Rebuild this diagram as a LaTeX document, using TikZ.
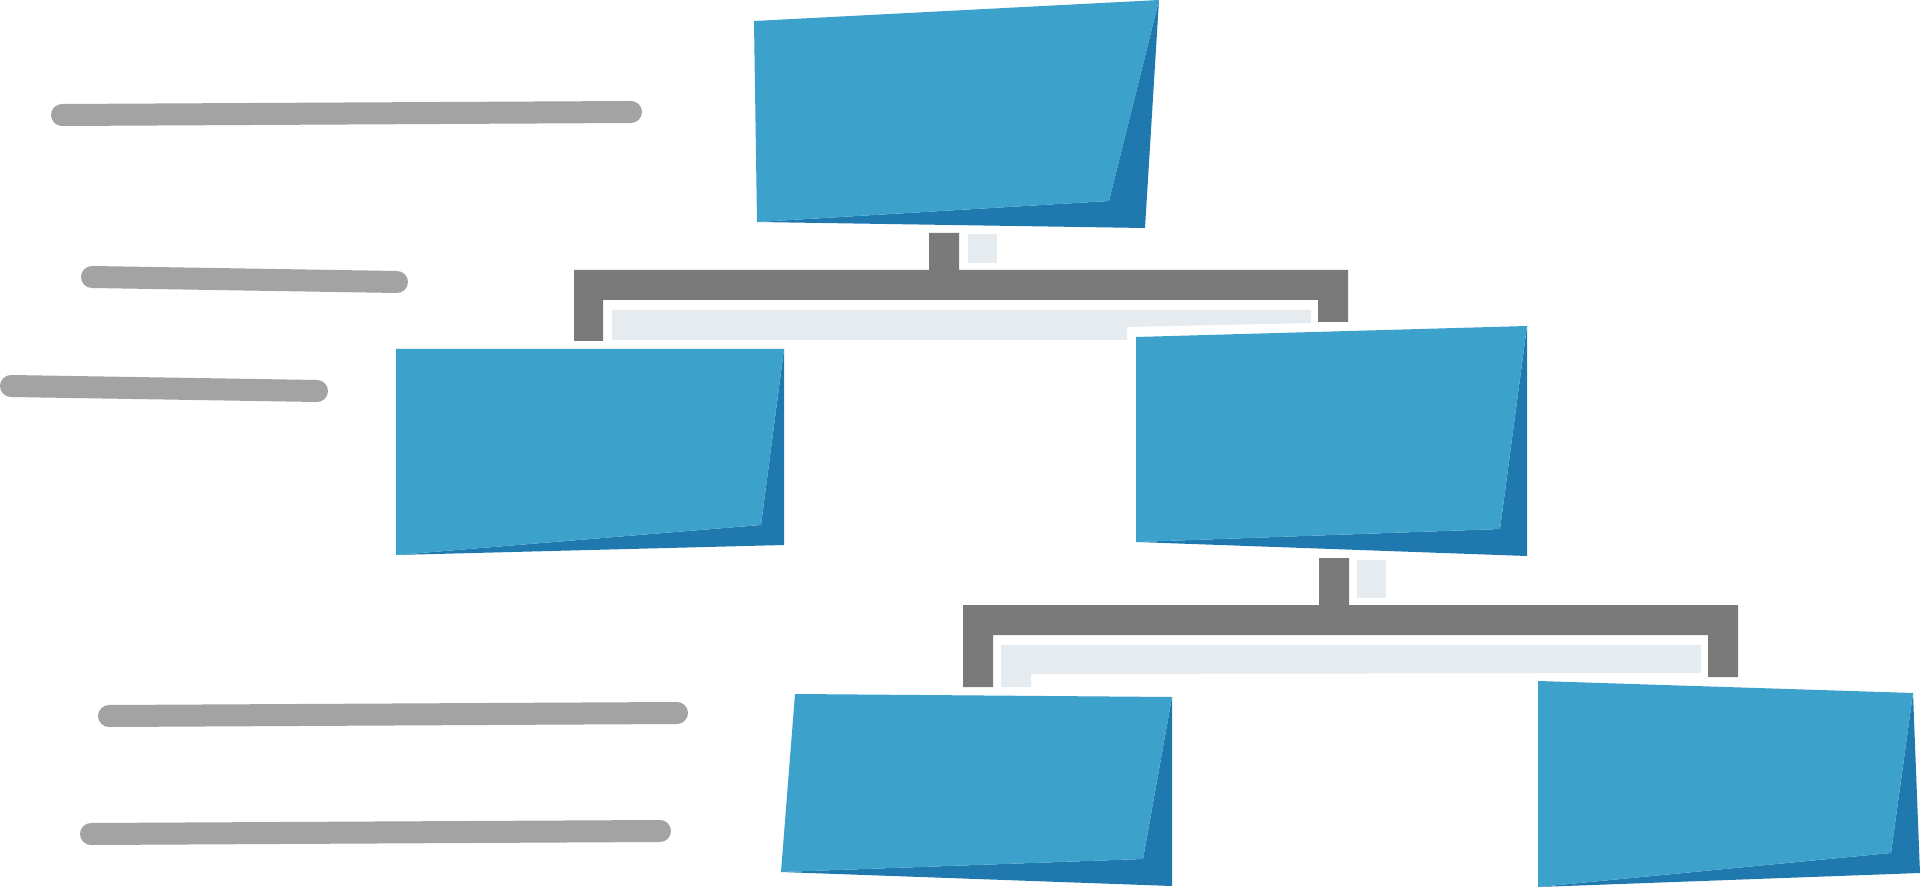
\documentclass[tikz,border=0pt]{standalone}
\usepackage{xcolor}
\definecolor{facelight}{HTML}{3CA1CB}
\definecolor{facedark}{HTML}{2079AE}
\definecolor{brackgray}{HTML}{7A7A7A}
\definecolor{padgray}{HTML}{E6EBEF}
\definecolor{linegray}{HTML}{A3A3A3}
\tikzset{
  lightface/.style={fill=facelight},
  darkface/.style={fill=facedark},
  brackshape/.style={fill=brackgray},
  padshape/.style={fill=padgray},
  textline/.style={draw=linegray, line width=0.22cm, line cap=round}
}
\begin{document}
\begin{tikzpicture}[x=0.01cm,y=-0.01cm]
\useasboundingbox (0,0) rectangle (1920,888);

% placeholder text lines
\draw[textline] (62,115) -- (631,112);
\draw[textline] (92,277) -- (397,282);
\draw[textline] (11,386) -- (317,391);
\draw[textline] (109,716) -- (677,713);
\draw[textline] (91,834) -- (660,831);

% top box
\fill[darkface] (1159,0) -- (1145,228) -- (757,222) -- (1109,201) -- cycle;
\fill[lightface] (754,21) -- (1159,0) -- (1109,201) -- (757,222) -- cycle;

% bracket 1
\fill[brackshape] (574,341) -- (574,270) -- (929,270) -- (929,233) -- (959,233) -- (959,270)
  -- (1348,270) -- (1348,322) -- (1318,322) -- (1318,300) -- (603,300) -- (603,341) -- cycle;
\fill[padshape] (968,234) rectangle (997,263);
\fill[padshape] (612,310) -- (1311,310) -- (1311,323) -- (1127,327) -- (1127,340) -- (612,340) -- cycle;

% left-mid box
\fill[darkface] (784,349) -- (784,545) -- (396,555) -- (761,525) -- cycle;
\fill[lightface] (396,349) -- (784,349) -- (761,525) -- (396,555) -- cycle;

% right-mid box
\fill[darkface] (1527,326) -- (1527,556) -- (1136,542) -- (1500,529) -- cycle;
\fill[lightface] (1136,337) -- (1527,326) -- (1500,529) -- (1136,542) -- cycle;

% bracket 2
\fill[brackshape] (963,687) -- (963,605) -- (1319,605) -- (1319,558) -- (1349,558) -- (1349,605)
  -- (1738,605) -- (1738,677) -- (1708,677) -- (1708,635) -- (993,635) -- (993,687) -- cycle;
\fill[padshape] (1357,560) rectangle (1386,598);
\fill[padshape] (1001,645) -- (1701,645) -- (1701,673) -- (1031,674) -- (1031,687) -- (1001,687) -- cycle;

% bottom-left box
\fill[darkface] (1172,697) -- (1172,886) -- (781,872) -- (1143,859) -- cycle;
\fill[lightface] (795,694) -- (1172,697) -- (1143,859) -- (781,872) -- cycle;

% bottom-right box
\fill[darkface] (1913,693) -- (1920,873) -- (1538,887) -- (1891,853) -- cycle;
\fill[lightface] (1538,681) -- (1913,693) -- (1891,853) -- (1538,887) -- cycle;
\end{tikzpicture}
\end{document}
